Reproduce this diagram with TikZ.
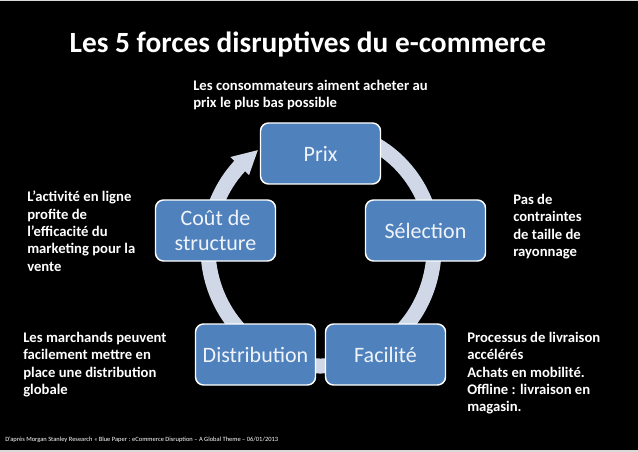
\documentclass[tikz,border=0pt]{standalone}
\usepackage{fontspec}
\setmainfont{Carlito}

\begin{document}
\begin{tikzpicture}[x=0.75pt,y=0.75pt,yscale=-1,xscale=1,
  forcebox/.style={draw=white, line width=1.1pt, fill={rgb, 255:red, 79; green, 129; blue, 189 }, rounded corners=6pt,
    minimum width=90pt, minimum height=45.75pt, inner sep=0pt, align=center, text={rgb, 255:red, 240; green, 244; blue, 250 },
    font=\fontsize{16.5}{18.75}\selectfont},
  note/.style={anchor=north west, inner sep=0pt, align=left, text=white, font=\bfseries\fontsize{11}{13}\selectfont}]
\useasboundingbox (0,0) rectangle (638,452);

%Shape: Rectangle (background)
\fill [color={rgb, 255:red, 217; green, 217; blue, 217 }] (0,0) rectangle (638,452);
\fill [color=black] (0,1.5) rectangle (638,450);

%Curve Lines (cycle ring)
\draw [line width=11.25pt, color={rgb, 255:red, 208; green, 216; blue, 232 }] (321,248) ++(-75:113 and 118) arc [start angle=-75, end angle=225, x radius=113, y radius=118];
%Shape: Triangle (ring head)
\fill [color={rgb, 255:red, 208; green, 216; blue, 232 }] (321,248) +(224:126 and 131) -- +(236:113 and 118) -- +(224:100 and 105) -- cycle;

%Rounded Rect
\draw (320.5,153.5) node (prix) [forcebox] {Prix};
%Rounded Rect
\draw (425.5,230.5) node (selection) [forcebox] {Sélection};
%Rounded Rect
\draw (385.5,354.5) node (facilite) [forcebox] {Facilité};
%Rounded Rect
\draw (255.5,354.5) node (distribution) [forcebox] {Distribution};
%Rounded Rect
\draw (215.5,230.5) node (cout) [forcebox] {Coût de\\structure};

% Text Node
\draw (308,44) node (titre) [text=white, font=\bfseries\fontsize{22}{26}\selectfont] {Les 5 forces disruptives du e-commerce};
% Text Node
\draw (193,80) node (noteprix) [note] {Les consommateurs aiment acheter au\\prix le plus bas possible};
% Text Node
\draw (27,191) node (notecout) [note] {L’activité en ligne\\profite de\\l’efficacité du\\marketing pour la\\vente};
% Text Node
\draw (23,332) node (notedistrib) [note] {Les marchands peuvent\\facilement mettre en\\place une distribution\\globale};
% Text Node
\draw (513,194) node (noteselection) [note] {Pas de\\contraintes\\de taille de\\rayonnage};
% Text Node
\draw (467,332) node (notefacilite) [note] {Processus de livraison\\accélérés\\Achats en mobilité.\\Offline : livraison en\\magasin.};
% Text Node
\draw (5,440) node (source) [anchor=west, inner sep=0pt, text=white, font=\fontsize{4.85}{5.5}\selectfont] {D’après Morgan Stanley Research « Blue Paper : eCommerce Disruption – A Global Theme – 06/01/2013};

\end{tikzpicture}
\end{document}
